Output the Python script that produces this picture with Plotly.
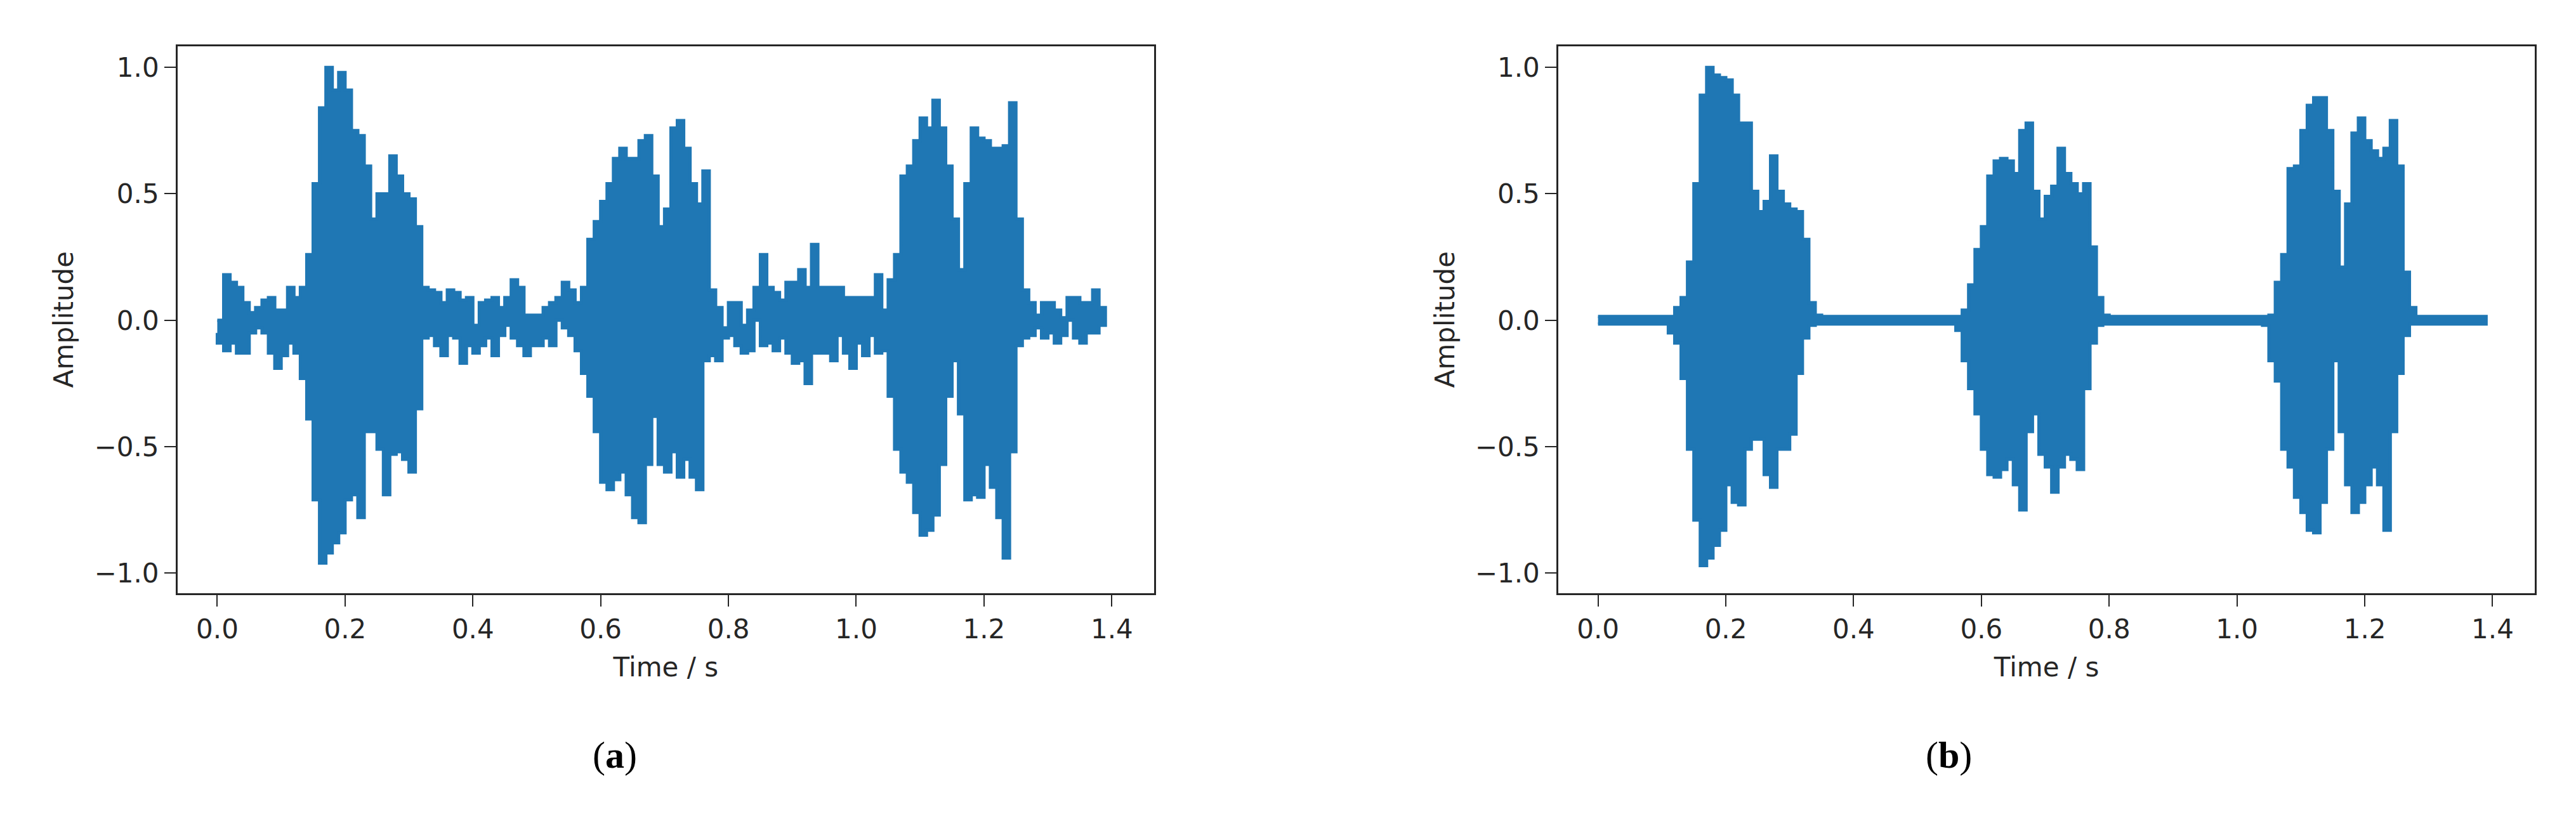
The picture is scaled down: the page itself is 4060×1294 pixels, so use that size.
import numpy as np
import plotly.graph_objects as go

# ---- data (envelopes of the waveform) ----
t_a = [round(0.01 * i, 2) for i in range(140)]
upper_a = [0.0, 0.18, 0.15, 0.13, 0.07, 0.03, 0.05, 0.08, 0.09, 0.04,
           0.04, 0.13, 0.09, 0.13, 0.26, 0.54, 0.84, 1.0, 0.91, 0.98,
           0.91, 0.75, 0.73, 0.61, 0.40, 0.50, 0.50, 0.65, 0.57, 0.50,
           0.48, 0.37, 0.13, 0.12, 0.11, 0.07, 0.12, 0.11, 0.08, 0.09,
           -0.02, 0.07, 0.08, 0.09, 0.05, 0.09, 0.16, 0.13, 0.02, 0.02,
           0.02, 0.05, 0.07, 0.09, 0.15, 0.12, 0.07, 0.13, 0.32, 0.39,
           0.47, 0.54, 0.64, 0.68, 0.64, 0.64, 0.71, 0.73, 0.57, 0.37,
           0.44, 0.76, 0.79, 0.68, 0.54, 0.46, 0.59, 0.12, 0.05, -0.03,
           0.07, 0.07, -0.02, 0.04, 0.13, 0.26, 0.13, 0.11, 0.08, 0.15,
           0.15, 0.20, 0.13, 0.30, 0.13, 0.13, 0.13, 0.13, 0.09, 0.09,
           0.09, 0.09, 0.09, 0.18, 0.04, 0.16, 0.26, 0.57, 0.61, 0.71,
           0.80, 0.76, 0.87, 0.76, 0.61, 0.40, 0.20, 0.54, 0.76, 0.72,
           0.71, 0.68, 0.68, 0.69, 0.86, 0.40, 0.12, 0.07, 0.02, 0.07,
           0.07, 0.04, 0.01, 0.09, 0.09, 0.07, 0.07, 0.12, 0.05, 0.04]
lower_a = [-0.05, -0.09, -0.12, -0.09, -0.13, -0.13, -0.05, -0.03, -0.05, -0.13,
           -0.19, -0.14, -0.09, -0.13, -0.23, -0.39, -0.71, -0.96, -0.92, -0.88,
           -0.84, -0.71, -0.69, -0.78, -0.44, -0.44, -0.51, -0.69, -0.53, -0.52,
           -0.55, -0.60, -0.35, -0.07, -0.06, -0.10, -0.14, -0.06, -0.07, -0.17,
           -0.10, -0.13, -0.10, -0.07, -0.14, -0.06, -0.02, -0.07, -0.10, -0.14,
           -0.10, -0.10, -0.07, -0.10, 0.0, -0.03, -0.06, -0.12, -0.21, -0.30,
           -0.44, -0.64, -0.67, -0.63, -0.60, -0.69, -0.78, -0.80, -0.57, -0.38,
           -0.57, -0.60, -0.52, -0.62, -0.55, -0.62, -0.67, -0.16, -0.14, -0.16,
           -0.07, -0.06, -0.10, -0.13, -0.12, 0.0, -0.10, -0.09, -0.12, -0.07,
           -0.13, -0.17, -0.16, -0.25, -0.13, -0.13, -0.13, -0.16, -0.06, -0.13,
           -0.19, -0.09, -0.14, -0.06, -0.13, -0.12, -0.30, -0.51, -0.60, -0.64,
           -0.76, -0.85, -0.83, -0.77, -0.57, -0.30, -0.16, -0.37, -0.71, -0.69,
           -0.70, -0.57, -0.66, -0.78, -0.94, -0.52, -0.10, -0.07, -0.06, -0.03,
           -0.07, -0.05, -0.09, -0.06, 0.0, -0.07, -0.09, -0.05, -0.05, -0.02]

t_b = [0.0, 0.11,
       0.12, 0.13, 0.14, 0.15, 0.16, 0.17, 0.18, 0.19, 0.20, 0.21, 0.22, 0.23,
       0.24, 0.25, 0.26, 0.27, 0.28, 0.29, 0.30, 0.31, 0.32, 0.33, 0.34,
       0.35, 0.56,
       0.57, 0.58, 0.59, 0.60, 0.61, 0.62, 0.63, 0.64, 0.65, 0.66, 0.67, 0.68,
       0.69, 0.70, 0.71, 0.72, 0.73, 0.74, 0.75, 0.76, 0.77, 0.78, 0.79,
       0.80, 1.04,
       1.05, 1.06, 1.07, 1.08, 1.09, 1.10, 1.11, 1.12, 1.13, 1.14, 1.15, 1.16,
       1.17, 1.18, 1.19, 1.20, 1.21, 1.22, 1.23, 1.24, 1.25, 1.26, 1.27,
       1.28, 1.39]
upper_b = [0.015, 0.015,
           0.05, 0.09, 0.23, 0.54, 0.89, 1.0, 0.97, 0.96, 0.95, 0.89, 0.78, 0.78,
           0.51, 0.43, 0.47, 0.65, 0.51, 0.46, 0.44, 0.43, 0.32, 0.07, 0.02,
           0.015, 0.015,
           0.04, 0.14, 0.28, 0.37, 0.57, 0.63, 0.64, 0.63, 0.58, 0.75, 0.78, 0.51,
           0.40, 0.49, 0.53, 0.68, 0.58, 0.54, 0.50, 0.54, 0.29, 0.09, 0.02,
           0.015, 0.015,
           0.02, 0.15, 0.26, 0.60, 0.61, 0.75, 0.85, 0.88, 0.88, 0.75, 0.51, 0.21,
           0.46, 0.74, 0.80, 0.71, 0.67, 0.64, 0.68, 0.79, 0.61, 0.19, 0.05,
           0.015, 0.015]
lower_b = [-0.015, -0.015,
           -0.05, -0.09, -0.23, -0.51, -0.79, -0.97, -0.94, -0.89, -0.83, -0.65, -0.72, -0.73,
           -0.51, -0.47, -0.47, -0.61, -0.66, -0.51, -0.51, -0.45, -0.21, -0.07, -0.02,
           -0.015, -0.015,
           -0.04, -0.16, -0.27, -0.37, -0.51, -0.61, -0.62, -0.59, -0.55, -0.65, -0.75, -0.44,
           -0.37, -0.53, -0.58, -0.68, -0.58, -0.53, -0.55, -0.59, -0.27, -0.09, -0.02,
           -0.015, -0.015,
           -0.02, -0.16, -0.24, -0.51, -0.58, -0.70, -0.76, -0.83, -0.84, -0.72, -0.51, -0.16,
           -0.44, -0.65, -0.76, -0.72, -0.65, -0.58, -0.65, -0.83, -0.44, -0.21, -0.06,
           -0.015, -0.015]

x_ticks = [0.0, 0.2, 0.4, 0.6, 0.8, 1.0, 1.2, 1.4]
y_ticks = [-1.0, -0.5, 0.0, 0.5, 1.0]
panel_labels = ["(<b>a</b>)", "(<b>b</b>)"]

BLUE = "#1f77b4"
fig = go.Figure()
for t, up, lo, xa, ya in [(t_a, upper_a, lower_a, "x", "y"),
                          (t_b, upper_b, lower_b, "x2", "y2")]:
    fig.add_trace(go.Scatter(
        x=list(t) + list(t)[::-1], y=list(up) + list(lo)[::-1],
        fill="toself", fillcolor=BLUE, mode="lines",
        line=dict(color=BLUE, width=5, shape="hv"),
        xaxis=xa, yaxis=ya, showlegend=False, hoverinfo="skip"))

font = dict(family="DejaVu Sans", size=42, color="#262626")
common_x = dict(range=[-0.062, 1.466], tickvals=x_ticks,
                ticktext=[f"{v:.1f}" for v in x_ticks],
                ticks="outside", ticklen=18, tickwidth=2, tickcolor="#262626",
                showline=True, linecolor="#262626", linewidth=3, mirror=True,
                showgrid=False, zeroline=False, tickfont=font,
                title=dict(text="Time / s", font=font, standoff=22))
common_y = dict(range=[-1.078, 1.084], tickvals=y_ticks,
                ticktext=[f"{v:.1f}".replace("-", "\u2212") for v in y_ticks],
                ticks="outside", ticklen=18, tickwidth=2, tickcolor="#262626",
                showline=True, linecolor="#262626", linewidth=3, mirror=True,
                showgrid=False, zeroline=False, tickfont=font,
                title=dict(text="Amplitude", font=font, standoff=20))

fig.update_layout(
    width=4060, height=1294, margin=dict(l=0, r=0, t=0, b=0),
    paper_bgcolor="white", plot_bgcolor="white",
    xaxis=dict(domain=[0.067, 0.446], anchor="y", **common_x),
    yaxis=dict(domain=[0.284, 0.950], anchor="x", **common_y),
    xaxis2=dict(domain=[0.603, 0.982], anchor="y2", **common_x),
    yaxis2=dict(domain=[0.284, 0.950], anchor="x2", **common_y),
)
for xpos, lab in zip([924 / 4060, 3102 / 4060], panel_labels):
    fig.add_annotation(text=lab, x=xpos, y=1 - 1217 / 1294, xref="paper", yref="paper",
                       showarrow=False, font=dict(family="Liberation Serif", size=60, color="black"))

fig.write_html("out.html")
